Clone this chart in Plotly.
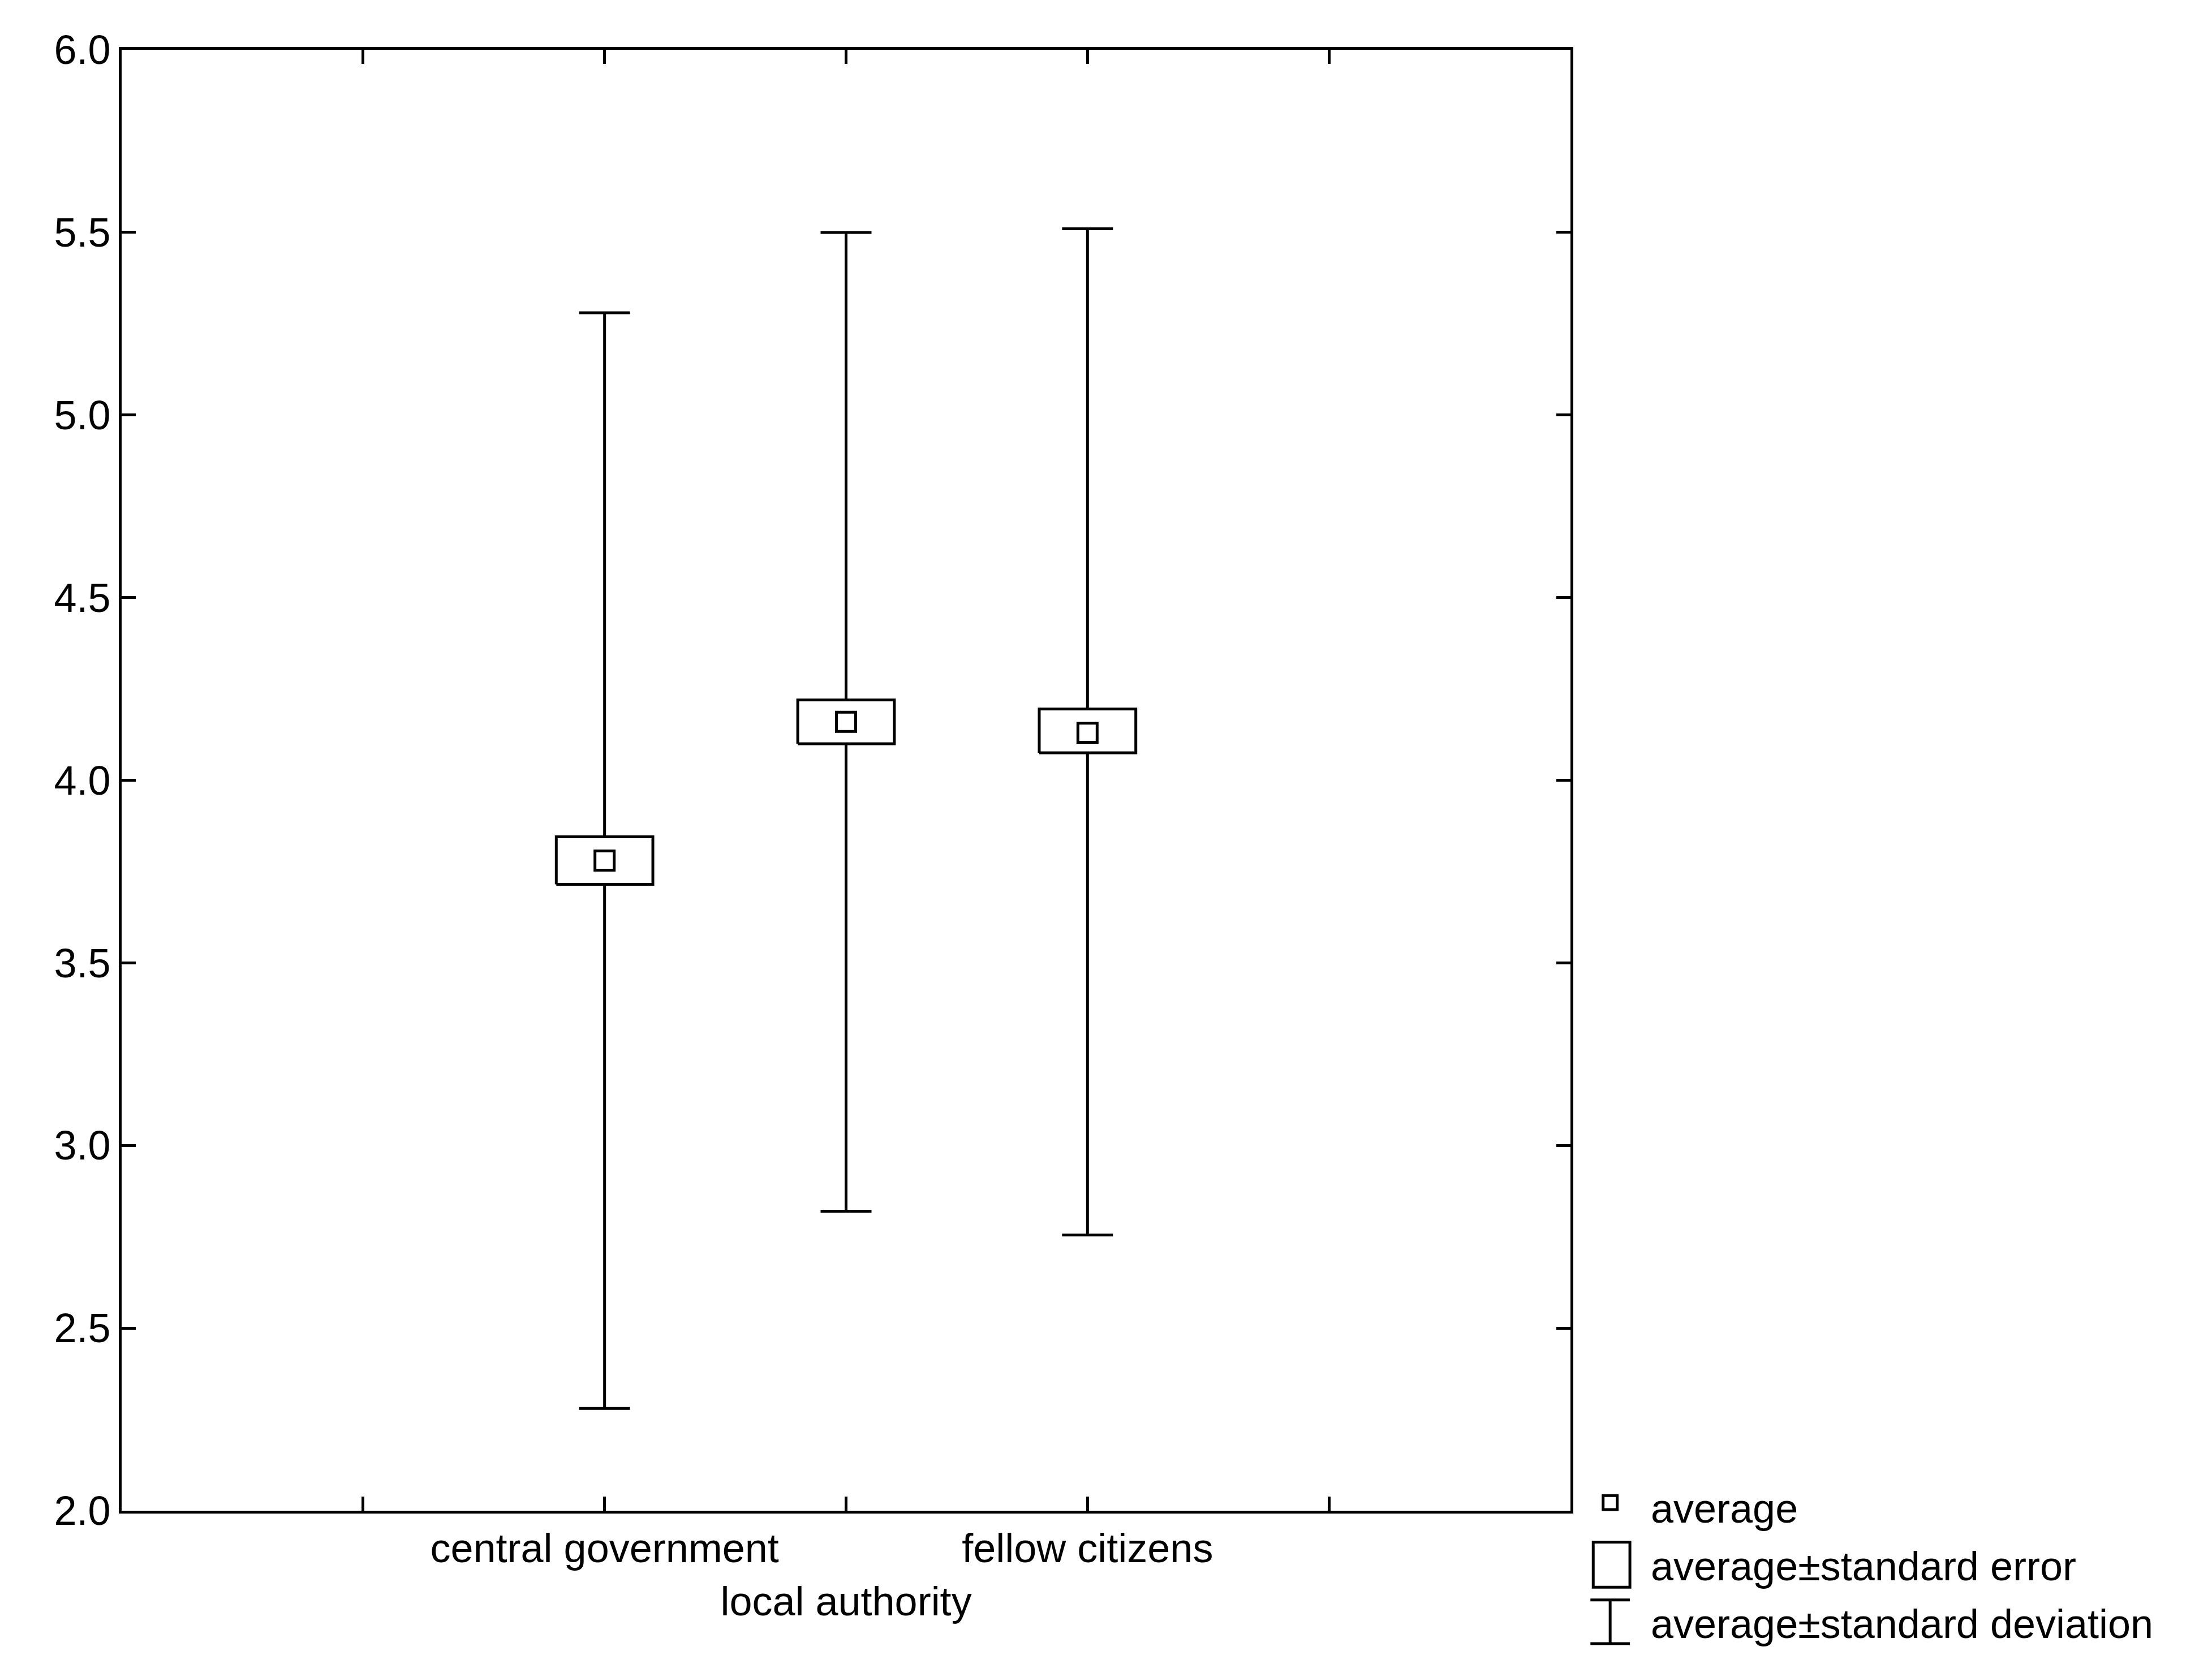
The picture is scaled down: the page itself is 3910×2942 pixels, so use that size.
import plotly.graph_objects as go

# Data
categories = ["central government", "local authority", "fellow citizens"]
cat_pos = [2, 3, 4]
means = [3.78, 4.16, 4.13]
se_low = [3.715, 4.100, 4.075]
se_high = [3.845, 4.220, 4.195]
sd_low = [2.28, 2.82, 2.755]
sd_high = [5.28, 5.50, 5.51]
tick_labels = ["central government", "<br>local authority", "fellow citizens"]

W, H = 3910, 2942
L, R, T, B = 207, 2768, 80, 2663
BOX_HALF = 0.2
FONT = dict(family="Liberation Sans, Arial", size=72, color="black")

fig = go.Figure()

# standard deviation whiskers
fig.add_trace(go.Scatter(
    x=cat_pos, y=means, mode="markers", marker=dict(size=1, color="rgba(0,0,0,0)"),
    error_y=dict(type="data", symmetric=False,
                 array=[h - m for h, m in zip(sd_high, means)],
                 arrayminus=[m - l for m, l in zip(means, sd_low)],
                 color="black", thickness=5, width=45),
    showlegend=False, hoverinfo="skip"))

# standard error boxes
bx, by = [], []
for p, lo, hi in zip(cat_pos, se_low, se_high):
    bx += [p - BOX_HALF, p + BOX_HALF, p + BOX_HALF, p - BOX_HALF, p - BOX_HALF, None]
    by += [lo, lo, hi, hi, lo, None]
fig.add_trace(go.Scatter(x=bx, y=by, mode="lines", fill="toself", fillcolor="white",
                         line=dict(color="black", width=5), showlegend=False, hoverinfo="skip"))

# averages
fig.add_trace(go.Scatter(x=cat_pos, y=means, mode="markers",
                         marker=dict(symbol="square-open", size=34, color="black", line=dict(width=5)),
                         showlegend=False))

# legend drawn by hand, outside the plot frame
def px(x):  # display-pixel x (1568 wide image) -> paper
    return (x * 2.494 - L) / (R - L)

def py(y):
    return (B - y * 2.494) / (B - T)

lk = dict(xref="paper", yref="paper", line=dict(color="black", width=5))
fig.add_shape(type="rect", x0=px(1133), x1=px(1143), y0=py(1067), y1=py(1057), **lk)
fig.add_shape(type="rect", x0=px(1126), x1=px(1152), y0=py(1122), y1=py(1090), **lk)
fig.add_shape(type="line", x0=px(1138), x1=px(1138), y0=py(1162), y1=py(1131), **lk)
fig.add_shape(type="line", x0=px(1124), x1=px(1152), y0=py(1131), y1=py(1131), **lk)
fig.add_shape(type="line", x0=px(1124), x1=px(1152), y0=py(1162), y1=py(1162), **lk)
for y, txt in [(1066, "average"), (1107, "average±standard error"), (1148, "average±standard deviation")]:
    fig.add_annotation(xref="paper", yref="paper", x=px(1166), y=py(y), text=txt,
                       showarrow=False, xanchor="left", yanchor="middle", font=FONT)

axis = dict(showline=True, linecolor="black", linewidth=5, mirror="ticks", ticks="inside",
            ticklen=25, tickwidth=5, tickcolor="black", showgrid=False, zeroline=False,
            tickfont=FONT, automargin=False)
fig.update_xaxes(range=[0, 6], tickvals=[1, 2, 3, 4, 5], tickangle=0,
                 ticktext=[""] + tick_labels + [""], **axis)
fig.update_yaxes(range=[2, 6], tickvals=[2, 2.5, 3, 3.5, 4, 4.5, 5, 5.5, 6],
                 ticktext=["2.0", "2.5", "3.0", "3.5", "4.0", "4.5", "5.0", "5.5", "6.0"], **axis)
fig.update_layout(width=W, height=H, plot_bgcolor="white", paper_bgcolor="white",
                  margin=dict(l=L, r=W - R, t=T, b=H - B), font=FONT)

fig.write_html("out.html")
